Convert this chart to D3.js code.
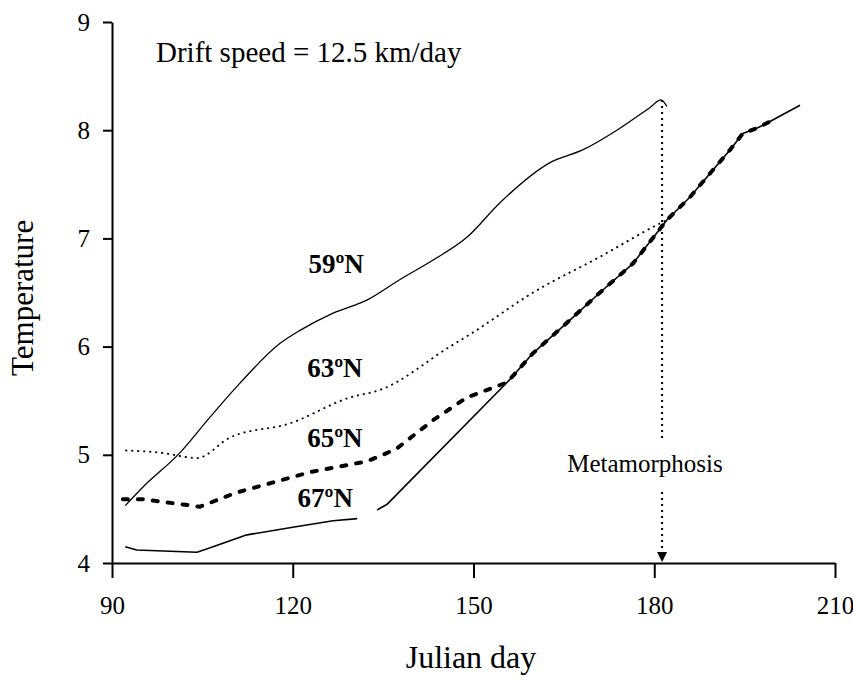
<!DOCTYPE html>
<html>
<head>
<meta charset="utf-8">
<script src="https://cdn.jsdelivr.net/npm/d3@7"></script>
<style>
  body { margin: 0; background: #fff; }
  svg { font-family: "Liberation Serif", "Times New Roman", serif; }
</style>
</head>
<body>
<svg id="chart" width="853" height="678"></svg>
<script>
// Data (Julian day vs temperature)
const days59 = [92.2, 95.1, 101.3, 106.3, 111.2, 117.9, 121.2, 126.7, 132.3, 137.8, 143.3, 148.9, 154.4, 162.7, 168.2, 173.8, 179.3, 181.1, 182.1];
const temp59 = [4.53, 4.70, 5.02, 5.35, 5.66, 6.03, 6.15, 6.31, 6.43, 6.62, 6.80, 7.01, 7.33, 7.70, 7.82, 8.00, 8.21, 8.28, 8.22];

const days63 = [92.2, 98.0, 104.1, 109.6, 119.5, 129.5, 134.5, 146.1, 149.9, 159.9, 171.0, 181.0, 182.1];
const temp63 = [5.04, 5.02, 4.97, 5.16, 5.29, 5.53, 5.60, 6.00, 6.13, 6.50, 6.83, 7.14, 7.17];

const days65 = [91.8, 95.1, 104.6, 110.6, 118.4, 122.9, 132.3, 135.0, 137.3, 143.3, 148.9, 155.6, 159.9, 165.5, 171.0, 176.5, 182.1, 185.9, 192.6, 194.7, 197.1, 199.2];
const temp65 = [4.59, 4.59, 4.52, 4.65, 4.77, 4.84, 4.94, 5.00, 5.06, 5.32, 5.53, 5.67, 5.94, 6.22, 6.50, 6.77, 7.17, 7.38, 7.82, 7.97, 8.02, 8.08];

// NaN marks the small break in the 67N curve
const days67 = [92.2, 94.1, 104.1, 106.3, 112.4, 120.0, 126.7, 130.7, 132.5, 134.0, 135.6, 155.6, 159.9, 165.5, 171.0, 176.5, 182.1, 185.9, 192.6, 194.7, 197.1, 199.2, 204.2];
const temp67 = [4.15, 4.12, 4.10, 4.14, 4.26, 4.33, 4.39, 4.41, NaN, 4.49, 4.54, 5.67, 5.94, 6.22, 6.50, 6.77, 7.17, 7.38, 7.82, 7.97, 8.02, 8.08, 8.23];

const xTicks = [90, 120, 150, 180, 210];
const yTicks = [4, 5, 6, 7, 8, 9];

const seriesLabels = ["59ºN", "63ºN", "65ºN", "67ºN"];
const labelDay = [122.6, 122.4, 122.4, 120.8];
const labelTemp = [6.68, 5.72, 5.07, 4.52];

const metamorphosisDay = 181.3;
const metamorphosisTop = 8.28;

const svg = d3.select("#chart");

const x = d3.scaleLinear().domain([90, 210]).range([112, 835]);
const y = d3.scaleLinear().domain([4, 9]).range([563, 22]);

// Axes
const xAxis = svg.append("g")
    .attr("transform", `translate(0,${y(4)})`)
    .call(d3.axisBottom(x).tickValues(xTicks).tickSize(15).tickSizeOuter(0).tickPadding(18).tickFormat(d3.format("d")));

const yAxis = svg.append("g")
    .attr("transform", `translate(${x(90)},0)`)
    .call(d3.axisLeft(y).tickValues(yTicks).tickSize(9).tickSizeOuter(0).tickPadding(13).tickFormat(d3.format("d")));

[xAxis, yAxis].forEach(a => {
    a.selectAll("path, line").attr("stroke", "#000").attr("stroke-width", 2);
    a.selectAll("text")
        .attr("fill", "#000")
        .style("font-family", "'Liberation Serif', serif")
        .style("font-size", "25px");
});

// Axis titles
svg.append("text")
    .attr("x", 471).attr("y", 668)
    .attr("text-anchor", "middle")
    .style("font-size", "32px")
    .text("Julian day");

svg.append("text")
    .attr("transform", `translate(33,${y(6.45)}) rotate(-90)`)
    .attr("text-anchor", "middle")
    .style("font-size", "31px")
    .text("Temperature");

svg.append("text")
    .attr("x", 156).attr("y", 62)
    .style("font-size", "29px")
    .text("Drift speed = 12.5 km/day");

// Lines: smooth for the wavy ones, straight for the shared drift track
const smooth = d3.line()
    .defined(d => !isNaN(d[1]))
    .curve(d3.curveMonotoneX)
    .x(d => x(d[0]))
    .y(d => y(d[1]));

const straight = d3.line()
    .defined(d => !isNaN(d[1]))
    .x(d => x(d[0]))
    .y(d => y(d[1]));

const zip = (a, b) => a.map((d, i) => [d, b[i]]);

const g = svg.append("g").attr("fill", "none").attr("stroke", "#000");

g.append("path")
    .datum(zip(days67, temp67))
    .attr("d", straight)
    .attr("stroke-width", 1.6)
    .attr("stroke-linejoin", "round");

g.append("path")
    .datum(zip(days59, temp59))
    .attr("d", smooth)
    .attr("stroke-width", 1.3);

g.append("path")
    .datum(zip(days63, temp63))
    .attr("d", smooth)
    .attr("stroke-width", 1.8)
    .attr("stroke-dasharray", "2,4");

g.append("path")
    .datum(zip(days65, temp65))
    .attr("d", straight)
    .attr("stroke-width", 4)
    .attr("stroke-linecap", "round")
    .attr("stroke-dasharray", "5,10");

// Series labels
svg.append("g")
    .selectAll("text")
    .data(seriesLabels)
    .join("text")
    .attr("x", (d, i) => x(labelDay[i]))
    .attr("y", (d, i) => y(labelTemp[i]))
    .style("font-size", "27px")
    .style("font-weight", "bold")
    .text(d => d);

// Metamorphosis marker
svg.append("defs").append("marker")
    .attr("id", "arrow")
    .attr("viewBox", "0 0 10 10")
    .attr("refX", 10).attr("refY", 5)
    .attr("markerWidth", 5).attr("markerHeight", 6)
    .attr("markerUnits", "strokeWidth")
    .attr("orient", "auto")
    .append("path")
    .attr("d", "M0,0L10,5L0,10Z")
    .attr("fill", "#000");

const mx = x(metamorphosisDay);
svg.append("line")
    .attr("x1", mx).attr("x2", mx)
    .attr("y1", y(metamorphosisTop)).attr("y2", 438)
    .attr("stroke", "#000").attr("stroke-width", 2)
    .attr("stroke-dasharray", "2,4");

svg.append("line")
    .attr("x1", mx).attr("x2", mx)
    .attr("y1", 492).attr("y2", y(4) - 1)
    .attr("stroke", "#000").attr("stroke-width", 2)
    .attr("stroke-dasharray", "2,4")
    .attr("marker-end", "url(#arrow)");

svg.append("text")
    .attr("x", 645).attr("y", 472)
    .attr("text-anchor", "middle")
    .style("font-size", "25px")
    .text("Metamorphosis");
</script>
</body>
</html>
